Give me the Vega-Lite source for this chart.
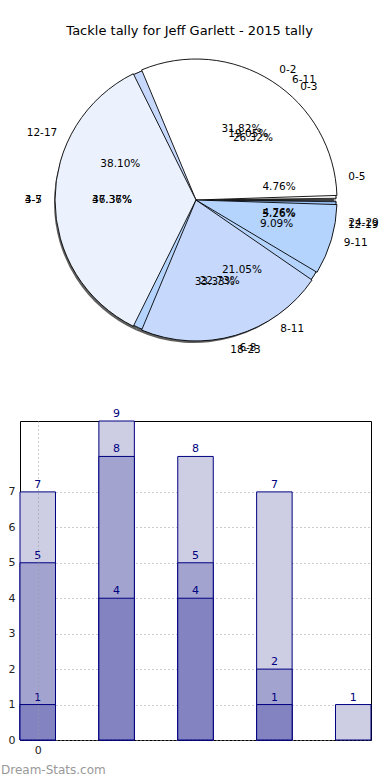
{
  "$schema": "https://vega.github.io/schema/vega-lite/v6.json",
  "padding": {"top": 25, "left": 0, "right": 0, "bottom": 0},
  "title": {"text": "Tackle tally for Jeff Garlett - 2015 tally", "fontSize": 13, "font": "DejaVu Sans", "fontWeight": "normal", "color": "#000000", "offset": 11, "anchor": "middle"},
  "config": {"font": "DejaVu Sans", "view": {"stroke": null}},
  "resolve": {"scale": {"color": "independent"}},
  "spacing": 51,
  "datasets": {
    "pies": [
      {"pie": "A", "idx": 0, "label": "0-2", "n": 7, "pct": "31.82%"},
      {"pie": "A", "idx": 1, "label": "3-5", "n": 8, "pct": "36.36%"},
      {"pie": "A", "idx": 2, "label": "6-8", "n": 5, "pct": "22.73%"},
      {"pie": "A", "idx": 3, "label": "9-11", "n": 2, "pct": "9.09%"},
      {"pie": "B", "idx": 0, "label": "0-5", "n": 1, "pct": "4.76%"},
      {"pie": "B", "idx": 1, "label": "6-11", "n": 4, "pct": "19.05%"},
      {"pie": "B", "idx": 2, "label": "12-17", "n": 8, "pct": "38.10%"},
      {"pie": "B", "idx": 3, "label": "18-23", "n": 7, "pct": "33.33%"},
      {"pie": "B", "idx": 4, "label": "24-29", "n": 1, "pct": "4.76%"},
      {"pie": "C", "idx": 0, "label": "0-3", "n": 5, "pct": "26.32%"},
      {"pie": "C", "idx": 1, "label": "4-7", "n": 9, "pct": "47.37%"},
      {"pie": "C", "idx": 2, "label": "8-11", "n": 4, "pct": "21.05%"},
      {"pie": "C", "idx": 3, "label": "12-19", "n": 1, "pct": "5.26%"}
    ],
    "bars": [
      {"x": 0, "layer": "light", "v": 7},
      {"x": 1, "layer": "light", "v": 9},
      {"x": 2, "layer": "light", "v": 8},
      {"x": 3, "layer": "light", "v": 7},
      {"x": 4, "layer": "light", "v": 1},
      {"x": 0, "layer": "medium", "v": 5},
      {"x": 1, "layer": "medium", "v": 8},
      {"x": 2, "layer": "medium", "v": 5},
      {"x": 3, "layer": "medium", "v": 2},
      {"x": 0, "layer": "dark", "v": 1},
      {"x": 1, "layer": "dark", "v": 4},
      {"x": 2, "layer": "dark", "v": 4},
      {"x": 3, "layer": "dark", "v": 1}
    ]
  },
  "vconcat": [
    {
      "width": 352,
      "height": 302,
      "view": {"stroke": null},
      "data": {"name": "pies"},
      "layer": [
        {
          "transform": [{"filter": "datum.pie == 'A'"}],
          "mark": {"type": "arc", "outerRadius": 140, "fill": "#444444", "opacity": 0.85, "xOffset": -2, "yOffset": 3},
          "encoding": {
            "theta": {"field": "n", "type": "quantitative", "stack": "normalize", "scale": {"domain": [0, 1], "range": [1.5708, -4.7124]}},
            "order": {"field": "idx"}
          }
        },
        {
          "transform": [{"filter": "datum.pie == 'C'"}],
          "mark": {"type": "arc", "outerRadius": 140, "stroke": "#000000", "strokeWidth": 0.8, "padAngle": 0.015},
          "encoding": {
            "theta": {"field": "n", "type": "quantitative", "stack": "normalize", "scale": {"domain": [0, 1], "range": [1.5708, -4.7124]}},
            "order": {"field": "idx"},
            "color": {"field": "idx", "type": "ordinal", "legend": null, "scale": {"domain": [0, 1, 2, 3, 4], "range": ["#ffffff", "#ebf2fe", "#c6d9fd", "#b4d4fe", "#9fc4fb"]}}
          }
        },
        {
          "transform": [{"filter": "datum.pie == 'B'"}],
          "mark": {"type": "arc", "outerRadius": 140, "stroke": "#000000", "strokeWidth": 0.8, "padAngle": 0.025},
          "encoding": {
            "theta": {"field": "n", "type": "quantitative", "stack": "normalize", "scale": {"domain": [0, 1], "range": [1.5708, -4.7124]}},
            "order": {"field": "idx"},
            "color": {"field": "idx", "type": "ordinal", "legend": null}
          }
        },
        {
          "transform": [{"filter": "datum.pie == 'A'"}],
          "mark": {"type": "arc", "outerRadius": 141, "stroke": "#000000", "strokeWidth": 0.9, "padAngle": 0.065},
          "encoding": {
            "theta": {"field": "n", "type": "quantitative", "stack": "normalize", "scale": {"domain": [0, 1], "range": [1.5708, -4.7124]}},
            "order": {"field": "idx"},
            "color": {"field": "idx", "type": "ordinal", "legend": null}
          }
        },
        {
          "transform": [{"filter": "datum.pie == 'A'"}],
          "mark": {"type": "text", "radius": 84, "fontSize": 10.5, "color": "#000000"},
          "encoding": {
            "theta": {"field": "n", "type": "quantitative", "stack": "normalize"},
            "order": {"field": "idx"},
            "text": {"field": "pct", "type": "nominal"}
          }
        },
        {
          "transform": [{"filter": "datum.pie == 'B'"}],
          "mark": {"type": "text", "radius": 84, "fontSize": 10.5, "color": "#000000"},
          "encoding": {
            "theta": {"field": "n", "type": "quantitative", "stack": "normalize"},
            "order": {"field": "idx"},
            "text": {"field": "pct", "type": "nominal"}
          }
        },
        {
          "transform": [{"filter": "datum.pie == 'C'"}],
          "mark": {"type": "text", "radius": 84, "fontSize": 10.5, "color": "#000000"},
          "encoding": {
            "theta": {"field": "n", "type": "quantitative", "stack": "normalize"},
            "order": {"field": "idx"},
            "text": {"field": "pct", "type": "nominal"}
          }
        },
        {
          "transform": [{"filter": "datum.pie == 'A'"}],
          "mark": {"type": "text", "radius": 154, "fontSize": 10.5, "align": "left", "color": "#000000"},
          "encoding": {
            "theta": {"field": "n", "type": "quantitative", "stack": "normalize"},
            "order": {"field": "idx"},
            "text": {"condition": {"test": "indexof(['3-5','12-17','4-7'], datum.label) < 0", "field": "label", "type": "nominal"}, "value": ""}
          }
        },
        {
          "transform": [{"filter": "datum.pie == 'A'"}],
          "mark": {"type": "text", "radius": 154, "fontSize": 10.5, "align": "right", "color": "#000000"},
          "encoding": {
            "theta": {"field": "n", "type": "quantitative", "stack": "normalize"},
            "order": {"field": "idx"},
            "text": {"condition": {"test": "indexof(['3-5','12-17','4-7'], datum.label) >= 0", "field": "label", "type": "nominal"}, "value": ""}
          }
        },
        {
          "transform": [{"filter": "datum.pie == 'B'"}],
          "mark": {"type": "text", "radius": 154, "fontSize": 10.5, "align": "left", "color": "#000000"},
          "encoding": {
            "theta": {"field": "n", "type": "quantitative", "stack": "normalize"},
            "order": {"field": "idx"},
            "text": {"condition": {"test": "indexof(['3-5','12-17','4-7'], datum.label) < 0", "field": "label", "type": "nominal"}, "value": ""}
          }
        },
        {
          "transform": [{"filter": "datum.pie == 'B'"}],
          "mark": {"type": "text", "radius": 154, "fontSize": 10.5, "align": "right", "color": "#000000"},
          "encoding": {
            "theta": {"field": "n", "type": "quantitative", "stack": "normalize"},
            "order": {"field": "idx"},
            "text": {"condition": {"test": "indexof(['3-5','12-17','4-7'], datum.label) >= 0", "field": "label", "type": "nominal"}, "value": ""}
          }
        },
        {
          "transform": [{"filter": "datum.pie == 'C'"}],
          "mark": {"type": "text", "radius": 154, "fontSize": 10.5, "align": "left", "color": "#000000"},
          "encoding": {
            "theta": {"field": "n", "type": "quantitative", "stack": "normalize"},
            "order": {"field": "idx"},
            "text": {"condition": {"test": "indexof(['3-5','12-17','4-7'], datum.label) < 0", "field": "label", "type": "nominal"}, "value": ""}
          }
        },
        {
          "transform": [{"filter": "datum.pie == 'C'"}],
          "mark": {"type": "text", "radius": 154, "fontSize": 10.5, "align": "right", "color": "#000000"},
          "encoding": {
            "theta": {"field": "n", "type": "quantitative", "stack": "normalize"},
            "order": {"field": "idx"},
            "text": {"condition": {"test": "indexof(['3-5','12-17','4-7'], datum.label) >= 0", "field": "label", "type": "nominal"}, "value": ""}
          }
        }
      ]
    },
    {
      "width": 351,
      "height": 319,
      "view": {"stroke": "#000000", "strokeWidth": 1},
      "title": {"text": "Dream-Stats.com", "orient": "bottom", "anchor": "start", "frame": "bounds", "fontSize": 12, "color": "#999999", "fontWeight": "normal", "offset": 10},
      "data": {"name": "bars"},
      "encoding": {
        "x": {"field": "x", "type": "quantitative", "scale": {"domain": [-0.225, 4.225], "nice": false, "zero": false, "padding": 0},
          "axis": {"values": [0], "title": null, "grid": true, "gridDash": [1, 3], "gridColor": "#999999", "domain": false, "ticks": false, "labelPadding": 4, "labelFontSize": 11, "labelColor": "#222222", "zindex": 1}},
        "y": {"field": "v", "type": "quantitative", "stack": null, "scale": {"domain": [0, 9], "nice": false, "padding": 0},
          "axis": {"values": [0, 1, 2, 3, 4, 5, 6, 7], "title": null, "grid": true, "gridDash": [1, 3], "gridColor": "#999999", "domain": false, "ticks": false, "labelPadding": 5, "minExtent": 19, "maxExtent": 19, "labelFontSize": 11, "labelColor": "#222222", "zindex": 0}}
      },
      "layer": [
        {
          "mark": {"type": "bar", "width": 35.5, "stroke": "#000080", "strokeWidth": 1, "opacity": 1},
          "encoding": {
            "color": {"field": "layer", "type": "nominal", "legend": null, "scale": {"domain": ["light", "medium", "dark"], "range": ["#cdcde4", "#a3a3d0", "#8383c1"]}}
          }
        },
        {
          "mark": {"type": "text", "baseline": "bottom", "dy": -2, "color": "#000080", "fontSize": 11},
          "encoding": {"text": {"field": "v", "type": "quantitative"}}
        }
      ]
    }
  ]
}
